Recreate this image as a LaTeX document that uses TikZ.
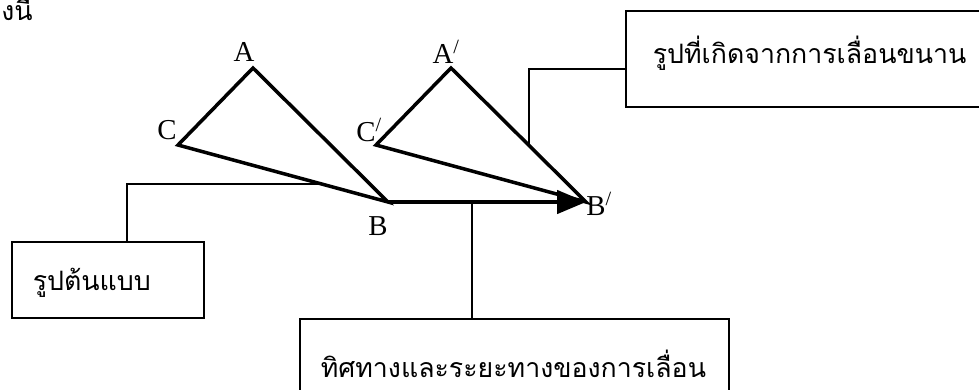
\documentclass[tikz,border=0pt]{standalone}
\usepackage{fontspec}
\setmainfont{Liberation Serif}
\newfontfamily\thaifont[Script=Thai]{Loma}
\usetikzlibrary{arrows.meta, positioning, calc}
\tikzset{
  ptlabel/.style={font=\fontsize{20.5}{24}\selectfont, inner sep=0pt},
  thaitext/.style={font=\thaifont\fontsize{19}{23}\selectfont},
  notebox/.style={thaitext, draw, line width=1.1pt, anchor=north west, align=left, inner ysep=0pt},
  tri/.style={line width=2.5pt},
  link/.style={line width=1.1pt},
  movearrow/.style={line width=2.5pt, -{Triangle[length=0.72cm, width=0.58cm]}},
}

\begin{document}
\begin{tikzpicture}[x=0.025cm, y=-0.025cm]
  \useasboundingbox (0,0) rectangle (979,389);
  \node[thaitext, anchor=base west, inner sep=0pt] (intro) at (1,20) {งนี้};
  % original and shifted triangles
  \coordinate (A) at (253,68);
  \coordinate (C) at (178,145);
  \coordinate (B) at (388,202);
  \coordinate (Ap) at (451,68);
  \coordinate (Cp) at (376,145);
  \coordinate (Bp) at (586,202);
  \foreach \ta/\tb/\tc in {A/B/C, Ap/Bp/Cp} \draw[tri] (\ta)--(\tc)--(\tb)--cycle;
  \draw[movearrow] (B) -- (Bp);
  \node[ptlabel] (lA) at (244,52) {A};
  \node[ptlabel] (lC) at (167,130) {C};
  \node[ptlabel] (lB) at (378,226) {B};
  \node[ptlabel] (lAp) at (443,52) {A\rlap{\textsuperscript{/}}};
  \node[ptlabel] (lCp) at (366,130) {C\rlap{\textsuperscript{/}}};
  \node[ptlabel] (lBp) at (596,204) {B\rlap{\textsuperscript{/}}};
  % callout boxes
  \node[notebox, text width=3.75cm, inner xsep=0.525cm, text height=1.225cm, text depth=0.675cm] (proto) at (11,241) {รูปต้นแบบ};
  \node[notebox, text width=9.675cm, inner xsep=0.525cm, text height=1.475cm, text depth=1cm] (dirbox) at (299,318) {ทิศทางและระยะทางของการเลื่อน};
  \node[notebox, text width=8.025cm, inner xsep=0.675cm, text height=1.325cm, text depth=1.075cm] (shifted) at (625,10) {รูปที่เกิดจากการเลื่อนขนาน};
  \coordinate (cbhit) at ($(C)!0.684!(B)$);
  \coordinate (mid) at ($(B)!0.424!(Bp)$);
  \coordinate (apbp) at ($(Ap)!0.578!(Bp)$);
  \draw[link] (cbhit) -| ([xshift=0.475cm]proto.north);
  \draw[link] (mid) -- (mid |- dirbox.north);
  \draw[link] ([yshift=-0.25cm]shifted.west) -| (apbp);
\end{tikzpicture}
\end{document}
